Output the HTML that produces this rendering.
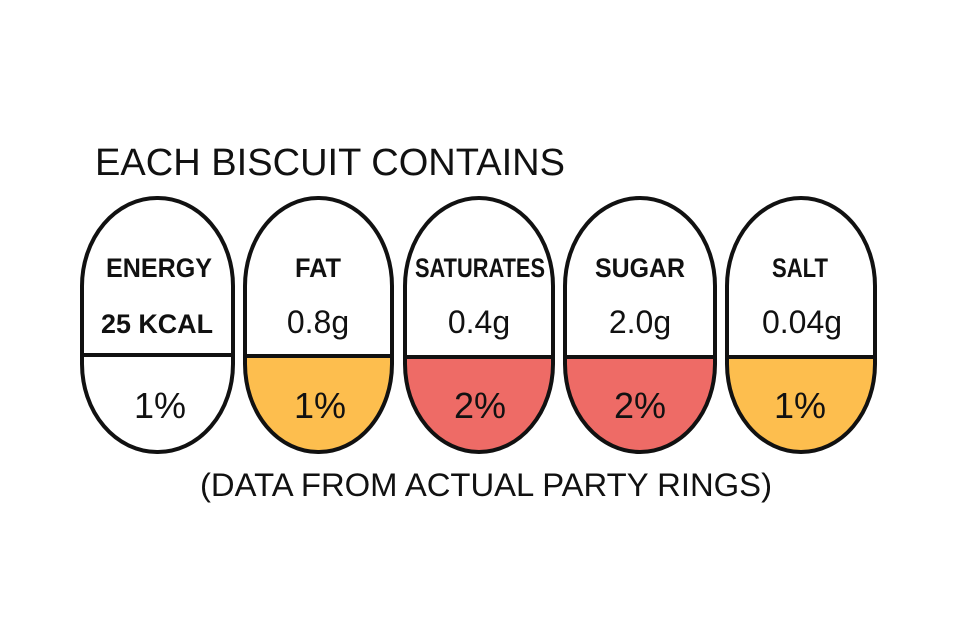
<!DOCTYPE html>
<html><head><style>body{margin:0;background:#fff}svg{display:block}text{font-family:"Liberation Sans",sans-serif;fill:#111}</style></head>
<body>
<svg width="960" height="640" viewBox="0 0 960 640">
<rect width="960" height="640" fill="#fff"/>
<defs>
<clipPath id="c2"><rect x="245" y="198" width="147" height="254" rx="73" ry="88"/></clipPath>
<clipPath id="c3"><rect x="405" y="198" width="148" height="254" rx="74" ry="88"/></clipPath>
<clipPath id="c4"><rect x="565" y="198" width="150" height="254" rx="75" ry="88"/></clipPath>
<clipPath id="c5"><rect x="727" y="198" width="148" height="254" rx="74" ry="88"/></clipPath>
</defs>
<text x="95" y="175" font-size="38" textLength="470" lengthAdjust="spacingAndGlyphs">EACH BISCUIT CONTAINS</text>
<g stroke="#111" stroke-width="4">
<rect x="245" y="356" width="147" height="100" fill="#FDBE4E" clip-path="url(#c2)" stroke="none"/>
<rect x="405" y="356" width="148" height="100" fill="#EE6B66" clip-path="url(#c3)" stroke="none"/>
<rect x="565" y="356" width="150" height="100" fill="#EE6B66" clip-path="url(#c4)" stroke="none"/>
<rect x="727" y="356" width="148" height="100" fill="#FDBE4E" clip-path="url(#c5)" stroke="none"/>
<rect x="82" y="198" width="151" height="254" rx="75" ry="88" fill="none"/>
<rect x="245" y="198" width="147" height="254" rx="73" ry="88" fill="none"/>
<rect x="405" y="198" width="148" height="254" rx="74" ry="88" fill="none"/>
<rect x="565" y="198" width="150" height="254" rx="75" ry="88" fill="none"/>
<rect x="727" y="198" width="148" height="254" rx="74" ry="88" fill="none"/>
<line x1="84" y1="355" x2="231" y2="355"/>
<line x1="247" y1="356" x2="390" y2="356"/>
<line x1="407" y1="357" x2="551" y2="357"/>
<line x1="567" y1="357" x2="713" y2="357"/>
<line x1="729" y1="357" x2="873" y2="357"/>
</g>
<g font-size="27" text-anchor="middle" font-weight="bold">
<text x="159" y="277" textLength="106" lengthAdjust="spacingAndGlyphs">ENERGY</text>
<text x="318" y="277" textLength="46" lengthAdjust="spacingAndGlyphs">FAT</text>
<text x="480" y="277" textLength="130" lengthAdjust="spacingAndGlyphs">SATURATES</text>
<text x="640" y="277" textLength="90" lengthAdjust="spacingAndGlyphs">SUGAR</text>
<text x="800" y="277" textLength="56" lengthAdjust="spacingAndGlyphs">SALT</text>
<text x="157" y="333" textLength="112" lengthAdjust="spacingAndGlyphs">25 KCAL</text>
</g>
<g font-size="32" text-anchor="middle">
<text x="318" y="333">0.8g</text>
<text x="479" y="333">0.4g</text>
<text x="640" y="333">2.0g</text>
<text x="802" y="333">0.04g</text>
</g>
<g font-size="36" text-anchor="middle">
<text x="160" y="418">1%</text>
<text x="320" y="418">1%</text>
<text x="480" y="418">2%</text>
<text x="640" y="418">2%</text>
<text x="800" y="418">1%</text>
</g>
<text x="200" y="496" font-size="32" textLength="572" lengthAdjust="spacingAndGlyphs">(DATA FROM ACTUAL PARTY RINGS)</text>
</svg>
</body></html>
